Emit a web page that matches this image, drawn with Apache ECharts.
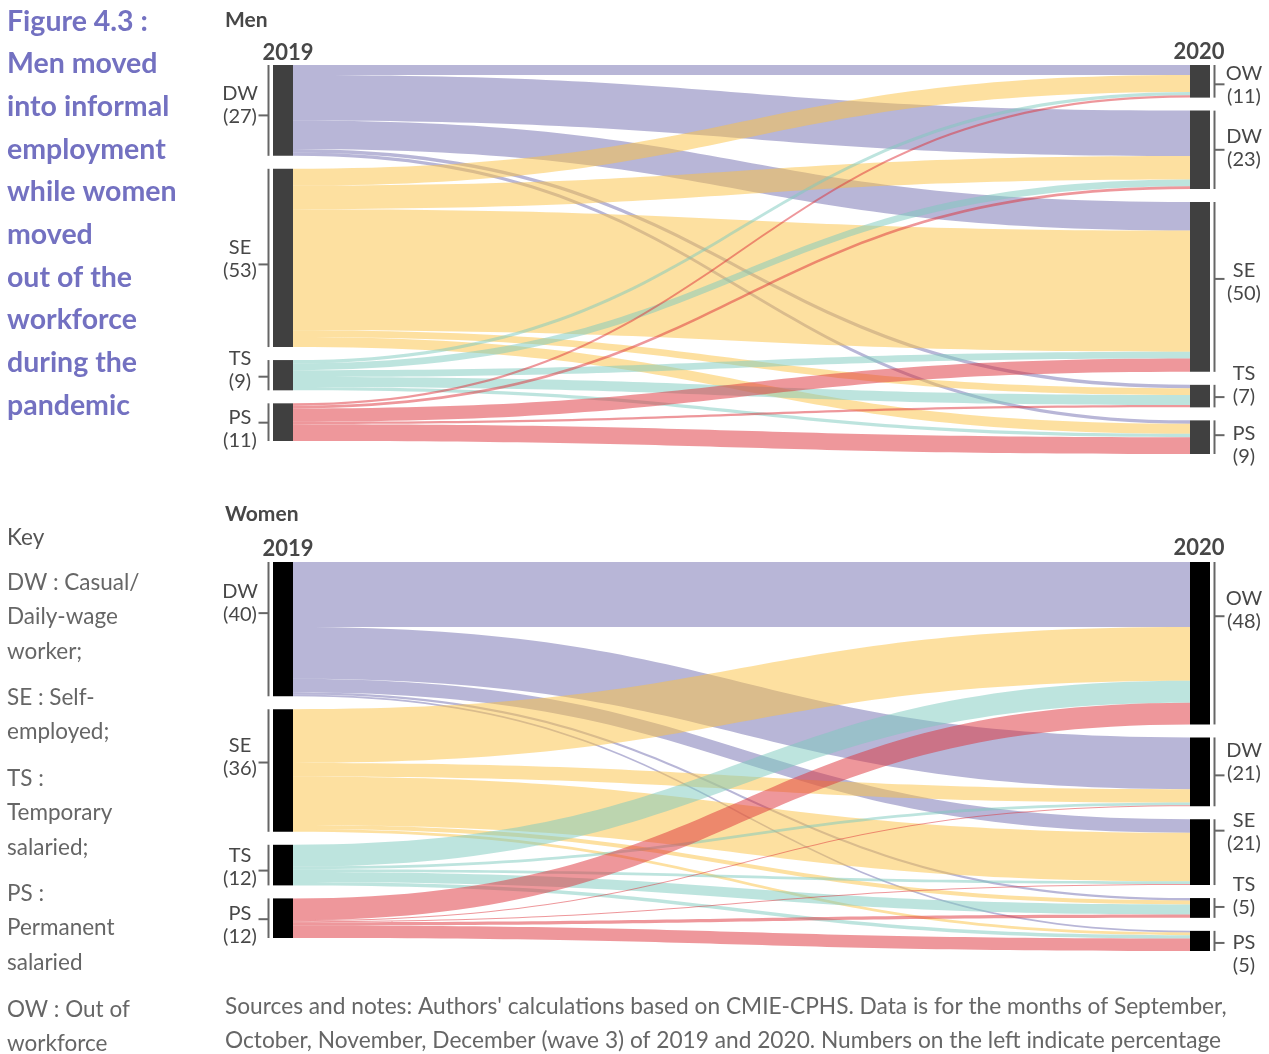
<!DOCTYPE html>
<html><head><meta charset="utf-8">
<script src="https://cdn.jsdelivr.net/npm/echarts@6/dist/echarts.min.js"></script>
<style>html,body{margin:0;padding:0;background:#fff}#c{width:1269px;height:1054px}</style>
</head><body><div id="c"></div>
<script>
// ---- categories ----
const cats2019 = ['DW', 'SE', 'TS', 'PS'];
const cats2020 = ['OW', 'DW', 'SE', 'TS', 'PS'];

// ---- node percentage labels ----
const menPct2019 = [27, 53, 9, 11];
const menPct2020 = [11, 23, 50, 7, 9];
const womenPct2019 = [40, 36, 12, 12];
const womenPct2020 = [48, 21, 21, 5, 5];

// ---- flows (2019 category -> 2020 OW, DW, SE, TS, PS) ----
const menFromDW = [3, 13.5, 8.5, 1, 1];
const menFromSE = [5, 7, 36, 2, 3];
const menFromTS = [1, 2, 2, 3, 1];
const menFromPS = [0.7, 0.8, 4, 0.7, 5];

const womenFromDW = [19.4, 15.4, 4, 0.7, 0.5];
const womenFromSE = [16, 4, 14.5, 1.2, 0.8];
const womenFromTS = [6.5, 0.8, 0.8, 3, 1];
const womenFromPS = [6.5, 0.3, 0.3, 1, 3.7];

// ---- text ----
const titleLines = ['Figure 4.3 :', 'Men moved', 'into informal', 'employment', 'while women', 'moved', 'out of the', 'workforce', 'during the', 'pandemic'];
const keyParas = [
  ['Key'],
  ['DW : Casual/', 'Daily-wage', 'worker;'],
  ['SE : Self-', 'employed;'],
  ['TS :', 'Temporary', 'salaried;'],
  ['PS :', 'Permanent', 'salaried'],
  ['OW : Out of', 'workforce']
];
const noteLines = [
  "Sources and notes: Authors' calculations based on CMIE-CPHS. Data is for the months of September,",
  "October, November, December (wave 3) of 2019 and 2020. Numbers on the left indicate percentage"
];

// ---- styles ----
const linkColors = { DW: 'rgb(113,109,175)', SE: 'rgb(251,193,65)', TS: 'rgb(123,201,189)', PS: 'rgb(221,47,55)' };
// [label shift, bracket tick shift] relative to node middle
const menShift = {
  left: [[-5.5, 5], [1, 6.5], [-5, 1.5], [6.5, 0.5]],
  right: [[3.5, 3], [-2, 0], [-4.5, -8], [-11.5, 1], [7.5, -2]]
};
const womenShift = {
  left: [[-26.5, -16], [-13.5, -8], [2, 5.5], [7, 1]],
  right: [[-33, -27], [-10, 3.5], [-20.5, -21.5], [-11.5, -1], [13.5, 2]]
};
const FONT = 'Lato, "Open Sans", sans-serif';

function buildSeries(pct19, pct20, flows, nodeColor, top, shifts) {
  const data = [];
  cats2019.forEach((c, i) => data.push({
    name: c + ' 2019',
    itemStyle: { color: nodeColor, borderWidth: 0 },
    label: { show: true, position: 'left', distance: 33, align: 'center', offset: [0, shifts.left[i][0]],
      formatter: c + '\n(' + pct19[i] + ')' }
  }));
  cats2020.forEach((c, j) => data.push({
    name: c + ' 2020',
    itemStyle: { color: nodeColor, borderWidth: 0 },
    label: { show: true, position: 'right', distance: 34, align: 'center', offset: [0, shifts.right[j][0]],
      formatter: c + '\n(' + pct20[j] + ')' }
  }));
  const links = [];
  cats2019.forEach((c, i) => {
    cats2020.forEach((d, j) => {
      links.push({ source: c + ' 2019', target: d + ' 2020', value: flows[i][j],
        lineStyle: { color: linkColors[c], opacity: 0.5, curveness: 0.5 } });
    });
  });
  return {
    type: 'sankey',
    left: 273, right: 59, top: top, height: 389,
    nodeWidth: 20, nodeGap: 13,
    layoutIterations: 0,
    draggable: false,
    emphasis: { disabled: true },
    label: { color: '#474747', fontSize: 20, lineHeight: 23, fontFamily: FONT },
    data: data,
    links: links
  };
}

const chart = echarts.init(document.getElementById('c'), null, { renderer: 'canvas' });
const option = {
  animation: false,
  backgroundColor: '#fff',
  series: [
    buildSeries(menPct2019, menPct2020, [menFromDW, menFromSE, menFromTS, menFromPS], '#404040', 65, menShift),
    buildSeries(womenPct2019, womenPct2020, [womenFromDW, womenFromSE, womenFromTS, womenFromPS], '#000000', 562, womenShift)
  ]
};
chart.setOption(option);

// ---- text graphics ----
const g = [];
g.push({ type: 'text', left: 7, top: 0, style: { text: titleLines.join('\n'), fontSize: 28.5, fontWeight: 'bold', fontFamily: FONT, fill: '#7371c1', lineHeight: 42.7 } });
const keyTops = [520, 565, 680, 761, 876, 992];
keyParas.forEach((p, i) => g.push({ type: 'text', left: 7, top: keyTops[i], style: { text: p.join('\n'), fontSize: 22.5, fontFamily: FONT, fill: i === 0 ? '#555' : '#666', lineHeight: 34.6 } }));
g.push({ type: 'text', left: 225, top: 990, style: { text: noteLines.join('\n'), fontSize: 22.7, fontFamily: FONT, fill: '#666', lineHeight: 34 } });
g.push({ type: 'text', x: 225, y: 20, style: { text: 'Men', fontSize: 21, fontWeight: 'bold', fontFamily: FONT, fill: '#474747', verticalAlign: 'middle' } });
g.push({ type: 'text', x: 225, y: 514, style: { text: 'Women', fontSize: 21, fontWeight: 'bold', fontFamily: FONT, fill: '#474747', verticalAlign: 'middle' } });
[[53, 52], [549, 548]].forEach(ys => {
  g.push({ type: 'text', x: 288, y: ys[0], style: { text: '2019', fontSize: 22, fontWeight: 'bold', fontFamily: FONT, fill: '#474747', align: 'center', verticalAlign: 'middle' } });
  g.push({ type: 'text', x: 1199, y: ys[1], style: { text: '2020', fontSize: 22, fontWeight: 'bold', fontFamily: FONT, fill: '#474747', align: 'center', verticalAlign: 'middle' } });
});

// ---- brackets derived from the library's own sankey layout ----
const shiftsBySeries = [menShift, womenShift];
chart.getModel().eachSeriesByType('sankey', function (s) {
  const idx = s.seriesIndex;
  const li = s.layoutInfo;
  const sh = shiftsBySeries[idx];
  s.getGraph().eachNode(function (n) {
    const l = n.getLayout();
    const isLeft = String(s.getData().getName(n.dataIndex)).indexOf('2019') >= 0;
    const nx = li.x + l.x, ny = li.y + l.y, mid = ny + l.dy / 2;
    const stroke = { stroke: '#666', lineWidth: 2 };
    if (isLeft) {
      const i = n.dataIndex;
      const bx = nx - 4.5;
      g.push({ type: 'line', shape: { x1: bx, y1: ny, x2: bx, y2: ny + l.dy }, style: stroke });
      const ty = mid + sh.left[i][1];
      g.push({ type: 'line', shape: { x1: bx - 10, y1: ty, x2: bx, y2: ty }, style: stroke });
    } else {
      const j = n.dataIndex - cats2019.length;
      const bx = nx + l.dx + 4.5;
      g.push({ type: 'line', shape: { x1: bx, y1: ny, x2: bx, y2: ny + l.dy }, style: stroke });
      const ty = mid + sh.right[j][1];
      g.push({ type: 'line', shape: { x1: bx, y1: ty, x2: bx + 10, y2: ty }, style: stroke });
    }
  });
});
chart.setOption({ graphic: g });
</script>
</body></html>
